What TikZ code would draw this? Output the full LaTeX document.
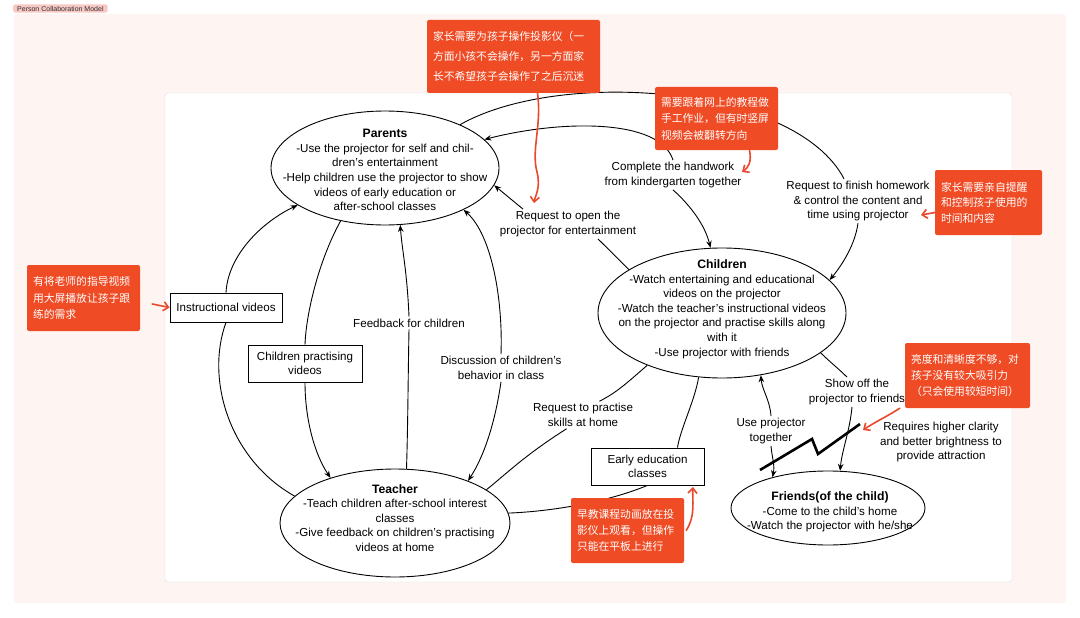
\documentclass[tikz,border=0pt]{standalone}
\usepackage{fontspec}
\setmainfont{Liberation Sans}
\newfontfamily\cjk{Noto Sans CJK SC}
\usetikzlibrary{arrows.meta,shapes.geometric}
\definecolor{calloutred}{HTML}{EF4B25}
\definecolor{inkred}{HTML}{E9482A}
\definecolor{bgpink}{HTML}{FEF4F2}
\definecolor{tagpink}{HTML}{F8C9C4}
\definecolor{framegray}{HTML}{DEDEDE}
\newcommand{\lblfont}{\fontsize{11.6}{14.6}\selectfont}
\newcommand{\hdfont}{\fontsize{12.2}{14.6}\selectfont\bfseries}
\tikzset{
  actor/.style={ellipse, draw, line width=0.9pt, inner sep=0pt},
  lbl/.style={font=\lblfont, align=center, inner sep=2pt},
  tagbox/.style={draw, line width=0.8pt, font=\lblfont, align=center, inner sep=0pt},
  callout/.style={fill=calloutred, text=white, rounded corners=2pt, align=left, inner xsep=6pt, inner ysep=0pt, font=\cjk\fontsize{10.8}{16.5}\selectfont},
  flow/.style={line width=0.9pt},
  ink/.style={inkred, line width=1.6pt, line cap=round, -{Straight Barb[length=5pt,width=9pt]}}
}
\begin{document}
\begin{tikzpicture}[x=1pt, y=-1pt, >={Stealth[length=7pt,width=5.5pt]}]
    \useasboundingbox[fill=white] (0,0) rectangle (1080,618);
    \fill[bgpink, rounded corners=3pt] (14,14) rectangle (1066,603);
    \node[fill=tagpink, text=black!80, rounded corners=2pt, font=\fontsize{7}{8}\selectfont, inner xsep=4pt, inner ysep=1.5pt, anchor=west] (title) at (13,8.5) {Person Collaboration Model};
    \draw[framegray, fill=white, rounded corners=3pt] (165,93) rectangle (1012,582);

    % actors
    \node[actor, minimum width=228pt, minimum height=114pt] (par) at (385,168) {};
    \node[lbl] (partxt) at (385,170) {{\hdfont Parents}\\-Use the projector for self and chil-\\dren's entertainment\\-Help children use the projector to show\\videos of early education or\\after-school classes};
    \node[actor, minimum width=248pt, minimum height=130pt] (ch) at (722,313) {};
    \node[lbl] (chtxt) at (722,309) {{\hdfont Children}\\-Watch entertaining and educational\\videos on the projector\\-Watch the teacher's instructional videos\\on the projector and practise skills along\\with it\\-Use projector with friends};
    \node[actor, minimum width=230pt, minimum height=108pt] (tch) at (395,523) {};
    \node[lbl] (tchtxt) at (395,518) {{\hdfont Teacher}\\-Teach children after-school interest\\classes\\-Give feedback on children's practising\\videos at home};
    \node[actor, minimum width=194pt, minimum height=74pt] (fr) at (828,508) {};
    \node[lbl] (frtxt) at (830,512) {{\hdfont Friends(of the child)}\\-Come to the child's home\\-Watch the projector with he/she};

    % boxed media
    \node[tagbox, minimum width=112pt, minimum height=29pt] (instr) at (226,307.5) {Instructional videos};
    \node[tagbox, minimum width=114pt, minimum height=37pt] (cpv) at (305,363.5) {Children practising\\videos};
    \node[tagbox, minimum width=113pt, minimum height=37pt] (eec) at (647.5,466.5) {Early education\\classes};

    % connector labels
    \node[lbl] (hwlbl) at (673,175) {Complete the handwork\\from kindergarten together};
    \node[lbl] (openlbl) at (568,224) {Request to open the\\projector for entertainment};
    \node[lbl] (homelbl) at (858,201) {Request to finish homework\\\& control the content and\\time using projector};
    \node[lbl] (fblbl) at (409,323) {Feedback for children};
    \node[lbl] (disclbl) at (501,368) {Discussion of children's\\behavior in class};
    \node[lbl] (praclbl) at (583,415) {Request to practise\\skills at home};
    \node[lbl] (showlbl) at (857,392) {Show off the\\projector to friends};
    \node[lbl] (uselbl) at (771,431) {Use projector\\together};
    \node[lbl] (brightlbl) at (941,442) {Requires higher clarity\\and better brightness to\\provide attraction};

    % parents <-> children
    \draw[flow] (par.30) .. controls (560,68) and (795,85) .. ([xshift=-14pt]homelbl.north);
    \draw[flow,->] (homelbl.south) .. controls (855,245) and (842,265) .. (ch.17);
    \draw[flow,<-] (par.16) .. controls (560,120) and (660,118) .. (hwlbl.north);
    \draw[flow,->] (hwlbl.south) .. controls (690,205) and (705,225) .. (ch.100);
    \draw[flow] (ch.155) -- ([xshift=30pt]openlbl.south);
    \draw[flow,->] ([xshift=-45pt]openlbl.north) -- (par.-9);

    % parents <-> teacher
    \draw[flow,->] (instr.north) .. controls (228,255) and (262,222) .. (par.-157);
    \draw[flow] (instr.south) .. controls (205,380) and (230,460) .. (tch.165);
    \draw[flow] (par.-130) .. controls (318,262) and (306,315) .. (cpv.north);
    \draw[flow,->] (cpv.south) .. controls (305,420) and (315,455) .. (tch.145);
    \draw[flow] (tch.78) .. controls (408,420) and (408,380) .. (fblbl.south);
    \draw[flow,->] (fblbl.north) .. controls (407,270) and (402,250) .. (par.-75);
    \draw[flow,<-] (par.-28) .. controls (492,235) and (503,300) .. (disclbl.north);
    \draw[flow,->] (disclbl.south) .. controls (497,410) and (488,450) .. (tch.30);

    % children <-> teacher
    \draw[flow] (ch.-145) .. controls (630,380) and (618,392) .. (praclbl.40);
    \draw[flow] (praclbl.-140) .. controls (525,455) and (505,475) .. (tch.20);
    \draw[flow] (ch.-110) .. controls (695,400) and (680,430) .. ([xshift=30pt]eec.north);
    \draw[flow] (eec.south) .. controls (600,505) and (540,512) .. (tch.5);

    % children <-> friends
    \draw[flow] (ch.-22) .. controls (830,362) and (840,370) .. ([xshift=-10pt]showlbl.north);
    \draw[flow,->] ([xshift=-5pt]showlbl.south) .. controls (850,430) and (842,450) .. (fr.72);
    \draw[flow,->] (uselbl.north) .. controls (770,400) and (762,390) .. (ch.-58);
    \draw[flow,->] (uselbl.south) .. controls (772,458) and (775,465) .. (fr.151);
    \draw[line width=2.6pt, line join=miter] (760,470) -- (812,439) -- (818,454) -- (860,424);

    % callouts
    \node[callout, text width=161pt, minimum height=73pt, font=\cjk\fontsize{10.8}{20}\selectfont] (cpar) at (513.5,56.5) {家长需要为孩子操作投影仪（一\\方面小孩不会操作，另一方面家\\长不希望孩子会操作了之后沉迷};
    \node[callout, text width=111pt, minimum height=63pt] (chand) at (716.5,118.5) {需要跟着网上的教程做\\手工作业，但有时竖屏\\视频会被翻转方向};
    \node[callout, text width=95pt, minimum height=65pt, font=\cjk\fontsize{10.8}{15.5}\selectfont] (chome) at (988.5,202.5) {家长需要亲自提醒\\和控制孩子使用的\\时间和内容};
    \node[callout, text width=101pt, minimum height=66pt] (cinstr) at (83.5,298) {有将老师的指导视频\\用大屏播放让孩子跟\\练的需求};
    \node[callout, text width=113pt, minimum height=65pt, font=\cjk\fontsize{10.8}{16}\selectfont] (cfriend) at (967.5,375.5) {亮度和清晰度不够，对\\孩子没有较大吸引力\\（只会使用较短时间）};
    \node[callout, text width=101pt, minimum height=65pt, font=\cjk\fontsize{10.8}{16}\selectfont] (cearly) at (627.5,530.5) {早教课程动画放在投\\影仪上观看，但操作\\只能在平板上进行};

    % hand-drawn pointers
    \coordinate (openmark) at (534,203);
    \coordinate (hwmark) at (742,172);
    \coordinate (homemark) at (921,215);
    \coordinate (boltmark) at (863,430);
    \coordinate (eemark) at (693,487);
    \draw[ink] ([xshift=24pt]cpar.south) .. controls (542,125) and (531,150) .. (537,172) .. controls (541,188) and (535,196) .. (openmark);
    \draw[ink] ([xshift=33pt]chand.south) .. controls (752,162) and (748,168) .. (hwmark);
    \draw[ink] ([yshift=-10pt]chome.west) -- (homemark);
    \draw[ink] ([xshift=12pt,yshift=-6pt]cinstr.east) -- (instr.west);
    \draw[ink] ([xshift=-5pt]cfriend.south west) .. controls (888,416) and (875,422) .. (boltmark);
    \draw[ink] ([xshift=2pt]cearly.east) .. controls (696,515) and (692,500) .. (eemark);
\end{tikzpicture}
\end{document}
